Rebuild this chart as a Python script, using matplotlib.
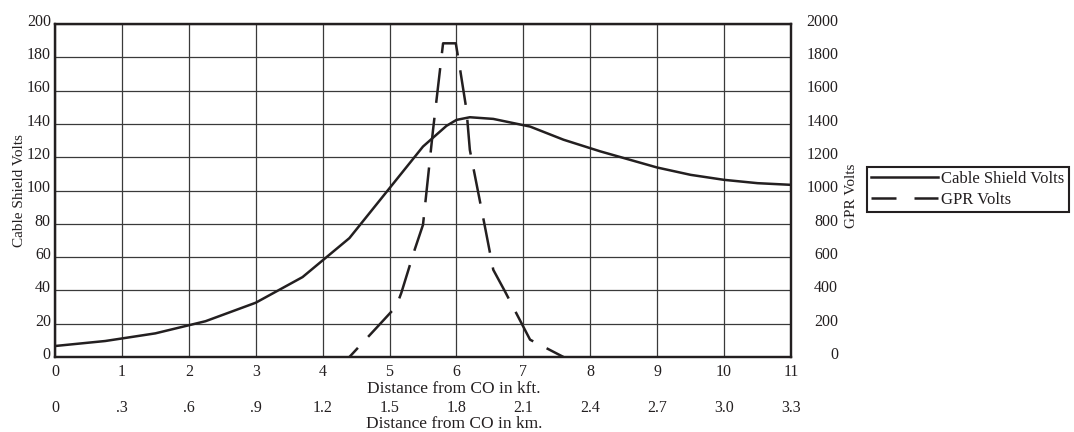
import matplotlib.pyplot as plt
from matplotlib import transforms

plt.rcParams['font.family'] = ['Liberation Serif', 'DejaVu Serif']

ink = '#231f20'

# distance axis (kft) and matching km labels
kft_ticks = list(range(12))
km_labels = ['0', '.3', '.6', '.9', '1.2', '1.5', '1.8', '2.1', '2.4', '2.7', '3.0', '3.3']

# cable shield volts (left axis)
cable_x = [0, 0.75, 1.5, 2.25, 3.0, 3.7, 4.4, 5.0, 5.5, 5.85, 6.0, 6.2, 6.55,
           7.1, 7.6, 8.15, 8.5, 9.0, 9.5, 10.0, 10.5, 11.0]
cable_v = [6.6, 9.6, 14.2, 21.5, 32.6, 48, 71.4, 101.4, 126.4, 138.8, 142.4, 144,
           143, 138.4, 130.5, 123.5, 119.5, 113.8, 109.4, 106.4, 104.4, 103.4]

# GPR volts (right axis)
gpr_x = [4.4, 4.825, 5.1, 5.175, 5.375, 5.5, 5.65, 5.8, 5.99, 6.04, 6.15, 6.2,
         6.425, 6.55, 6.725, 7.1, 7.6]
gpr_v = [0, 184, 304, 384, 644, 794, 1364, 1884, 1884, 1764, 1484, 1244,
         784, 524, 394, 104, 0]

fig = plt.figure(figsize=(10.74, 4.32), dpi=100)
ax = fig.add_axes([55 / 1074, 75 / 432, 736 / 1074, 333 / 432])

ax.plot(cable_x, cable_v, color=ink, lw=1.8, label='Cable Shield Volts')
ax.set_xlim(0, 11)
ax.set_ylim(0, 200)
ax.set_xticks(kft_ticks)
ax.set_yticks(range(0, 201, 20))
ax.grid(True, color='#3a3a3a', lw=0.9)
ax.tick_params(length=0, labelsize=11.5, colors=ink)
ax.tick_params(axis='y', pad=3)
ax.tick_params(axis='x', pad=5)
for s in ax.spines.values():
    s.set_linewidth(1.6)
    s.set_color(ink)

ax.set_xlabel('Distance from CO in kft.', fontsize=12.5, color=ink)
ax.xaxis.set_label_coords(0.542, -0.072)
ax.set_ylabel('Cable Shield Volts', fontsize=11, color=ink)
ax.yaxis.set_label_coords(-0.039, 0.5)

ax2 = ax.twinx()
ax2.plot(gpr_x, gpr_v, color=ink, lw=1.8, linestyle=(9, (14, 6)), label='GPR Volts')
ax2.set_ylim(0, 2000)
ax2.set_yticks(range(0, 2001, 200))
ax2.tick_params(length=0, labelsize=11.5, colors=ink, pad=34)
for s in ax2.spines.values():
    s.set_linewidth(1.6)
    s.set_color(ink)
ax2.set_ylabel('GPR Volts', fontsize=11, color=ink)
ax2.yaxis.set_label_coords(1.073, 0.485)

# y tick labels sit a little above their grid lines in the original
lift = transforms.ScaledTranslation(0, 3 / 72, fig.dpi_scale_trans)
for lab in ax.get_yticklabels():
    lab.set_transform(lab.get_transform() + lift)
for lab in ax2.get_yticklabels():
    lab.set_horizontalalignment('right')
    lab.set_transform(lab.get_transform() + lift)

# km labels under the kft ticks
sec = ax.secondary_xaxis(-0.13)
sec.set_xticks(kft_ticks)
sec.set_xticklabels(km_labels)
sec.tick_params(length=0, pad=0, labelsize=11.5, colors=ink)
sec.spines['bottom'].set_visible(False)
ax.text(0.542, -0.178, 'Distance from CO in km.', transform=ax.transAxes,
        ha='center', va='top', fontsize=12.5, color=ink)

h1, l1 = ax.get_legend_handles_labels()
h2, l2 = ax2.get_legend_handles_labels()
leg = fig.legend(h1 + h2, l1 + l2, loc='upper left',
                 bbox_to_anchor=(867 / 1074, (432 - 167) / 432),
                 bbox_transform=fig.transFigure, fancybox=False, framealpha=1,
                 edgecolor=ink, fontsize=12, borderpad=0.25, handlelength=4.0,
                 handletextpad=0.2, labelspacing=0.3, borderaxespad=0)
leg.get_frame().set_linewidth(1.5)
leg.get_lines()[1].set_linestyle((0, (10, 7.2)))
for t in leg.get_texts():
    t.set_color(ink)

fig.savefig('out.png', dpi=100)
